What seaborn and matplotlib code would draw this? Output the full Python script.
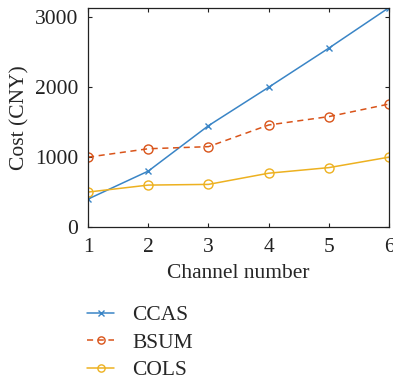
import matplotlib
matplotlib.use("Agg")
import matplotlib.pyplot as plt
import seaborn as sns
import pandas as pd

channels = [1, 2, 3, 4, 5, 6]
ccas = [400, 800, 1450, 2000, 2560, 3140]
bsum = [1000, 1120, 1150, 1460, 1580, 1760]
cols = [500, 600, 610, 770, 850, 1000]
series_names = ["CCAS", "BSUM", "COLS"]

sns.set_theme(style="ticks")
plt.rcParams['font.family'] = ['Liberation Serif', 'DejaVu Serif']

df = pd.DataFrame({
    "Channel": channels * 3,
    "Cost": ccas + bsum + cols,
    "Method": sum([[n] * len(channels) for n in series_names], []),
})

palette = {"CCAS": "#3a85c6", "BSUM": "#d9541a", "COLS": "#edb120"}
markers = {"CCAS": "o", "BSUM": "o", "COLS": "o"}
real_markers = {"CCAS": "x", "BSUM": "o", "COLS": "o"}
dashes = {"CCAS": "", "BSUM": (4, 3), "COLS": ""}
msizes = {"CCAS": 5, "BSUM": 6.5, "COLS": 6.5}

fig = plt.figure(figsize=(3.93, 3.79), dpi=100)
ax = fig.add_axes([0.224, 0.401, 0.766, 0.579])

sns.lineplot(data=df, x="Channel", y="Cost", hue="Method", style="Method",
             palette=palette, markers=markers, dashes=dashes, ax=ax, lw=1.1,
             hue_order=series_names, style_order=series_names)

h, l = ax.get_legend_handles_labels()
ax.get_legend().remove()

def fix(line, name, scale=1.0):
    c = palette[name]
    line.set_marker(real_markers[name])
    line.set_markeredgecolor(c)
    line.set_markerfacecolor("none")
    line.set_markeredgewidth(1.0)
    line.set_markersize(msizes[name] * scale)

for line, name in zip(ax.lines[:3], series_names):
    fix(line, name)
pairs = []
for hh, name in zip(h, l):
    if name in palette:
        fix(hh, name, 0.8)
        hh.set_linewidth(1.1)
        pairs.append((hh, name))

ax.set_xlim(1, 6)
ax.set_ylim(0, 3140)
ax.set_xticks(channels)
ax.set_yticks([0, 1000, 2000, 3000])
ax.set_xlabel("Channel number", fontsize=15.5, labelpad=5)
ax.set_ylabel("Cost (CNY)", fontsize=15.5, labelpad=4)
ax.tick_params(axis="x", pad=8)
ax.tick_params(axis="y", pad=7)
ax.tick_params(direction="in", top=True, right=True, labelsize=15.5, length=3, width=0.8, colors="#222222")
for s in ax.spines.values():
    s.set_linewidth(0.9)
    s.set_color("#222222")
    s.set_visible(True)

leg = fig.legend([p[0] for p in pairs], [p[1] for p in pairs], loc="upper left",
                 bbox_to_anchor=(0.222, 0.195), frameon=False,
                 fontsize=15.5, handlelength=1.25, labelspacing=0.35, handletextpad=0.85,
                 borderaxespad=0, borderpad=0)
fig.savefig("out.png", dpi=100)
